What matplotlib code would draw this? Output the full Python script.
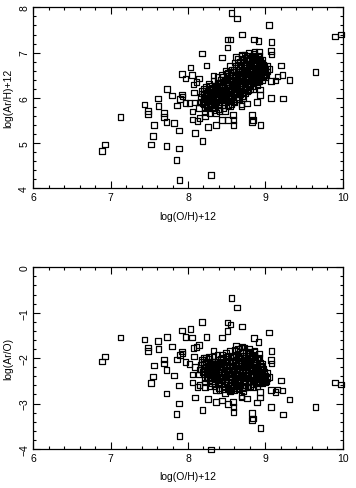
import numpy as np
import matplotlib
matplotlib.use('Agg')
from matplotlib import pyplot as plt
from matplotlib.ticker import MultipleLocator

plt.rcParams['font.family'] = ['Liberation Sans', 'DejaVu Sans']

# log(O/H)+12 and log(Ar/H)+12 of the sample
# scattered objects
oh_out = [6.89, 6.93, 7.13, 7.44, 7.48, 7.48, 7.56, 7.55, 7.52, 7.61, 7.62, 7.69, 7.69,
          7.72, 7.73, 7.72, 7.79, 7.82, 7.85, 7.88, 7.88, 7.89, 7.86, 7.90, 7.92, 7.93,
          7.92, 7.97, 8.03, 8.05, 8.06, 8.06, 8.09, 8.12, 8.15, 8.18, 8.19, 8.26, 8.30,
          8.36, 8.44, 8.51, 8.51, 8.55, 8.56, 8.63, 8.58, 8.59, 8.59, 8.70, 8.85, 8.91,
          9.05, 9.08, 9.07, 9.08, 9.07, 9.07, 9.13, 9.16, 9.22, 9.20, 9.31, 9.23, 9.65,
          9.90, 9.98, 8.83, 8.84, 8.83, 8.94, 8.89, 8.93, 8.93, 8.69, 8.69, 8.76, 8.07,
          8.08, 8.11, 8.14, 8.24, 8.33, 8.22, 8.28, 8.36, 8.21, 8.26, 8.15, 8.14, 8.22,
          8.02, 8.09, 7.97, 8.41, 8.48, 8.54, 8.44, 8.52]
arh_out = [4.82, 4.97, 5.58, 5.85, 5.71, 5.64, 5.40, 5.15, 4.97, 5.99, 5.82, 5.66, 5.57,
           5.46, 6.19, 4.94, 6.05, 5.44, 4.62, 4.88, 5.28, 4.18, 5.83, 5.97, 6.07, 6.03,
           6.53, 6.43, 6.67, 6.50, 5.70, 5.52, 5.22, 5.49, 5.56, 6.98, 5.05, 5.36, 4.29,
           5.40, 6.89, 7.11, 7.29, 7.29, 7.88, 7.75, 5.62, 5.51, 5.40, 7.40, 7.29, 7.26,
           7.61, 7.24, 7.03, 6.96, 6.37, 6.00, 6.38, 6.47, 6.51, 6.71, 6.40, 5.99, 6.57,
           7.36, 7.40, 5.62, 5.51, 5.47, 5.40, 5.91, 6.18, 6.06, 5.86, 5.82, 5.87, 6.29,
           6.12, 6.35, 6.43, 6.71, 6.49, 5.68, 5.66, 5.66, 5.93, 5.81, 5.90, 5.78, 5.59,
           5.89, 5.90, 5.89, 5.71, 5.71, 5.81, 5.51, 5.51]

# dense core of the distribution
oh_core = [8.16, 8.18, 8.19, 8.21, 8.22, 8.23, 8.24, 8.25, 8.26, 8.27, 8.28, 8.29, 8.30,
           8.31, 8.32, 8.33, 8.34, 8.35, 8.36, 8.37, 8.38, 8.39, 8.40, 8.41, 8.42, 8.43,
           8.44, 8.45, 8.46, 8.47, 8.48, 8.49, 8.50, 8.51, 8.52, 8.53, 8.54, 8.55, 8.56,
           8.57, 8.58, 8.59, 8.60, 8.61, 8.62, 8.63, 8.64, 8.65, 8.66, 8.67, 8.68, 8.69,
           8.70, 8.71, 8.72, 8.73, 8.74, 8.75, 8.76, 8.77, 8.78, 8.79, 8.80, 8.81, 8.82,
           8.83, 8.84, 8.85, 8.86, 8.87, 8.88, 8.89, 8.90, 8.91, 8.92, 8.93, 8.94, 8.95,
           8.96, 8.97, 8.98, 8.99, 9.00, 9.02, 9.01,
           8.17, 8.20, 8.22, 8.24, 8.26, 8.28, 8.30, 8.31, 8.33, 8.35, 8.36, 8.38, 8.39,
           8.41, 8.42, 8.44, 8.45, 8.46, 8.48, 8.49, 8.50, 8.52, 8.53, 8.55, 8.56, 8.57,
           8.58, 8.60, 8.61, 8.62, 8.64, 8.65, 8.66, 8.67, 8.68, 8.70, 8.71, 8.72, 8.73,
           8.74, 8.75, 8.76, 8.77, 8.79, 8.80, 8.81, 8.82, 8.83, 8.84, 8.86, 8.87, 8.88,
           8.89, 8.90, 8.91, 8.92, 8.93, 8.94, 8.96, 8.97, 8.98, 9.00, 9.03, 9.05,
           8.20, 8.23, 8.27, 8.29, 8.32, 8.34, 8.37, 8.40, 8.43, 8.45, 8.47, 8.50, 8.51,
           8.53, 8.54, 8.56, 8.58, 8.59, 8.61, 8.62, 8.63, 8.64, 8.66, 8.67, 8.69, 8.70,
           8.72, 8.73, 8.74, 8.76, 8.77, 8.78, 8.80, 8.81, 8.82, 8.84, 8.85, 8.86, 8.88,
           8.89, 8.91, 8.93, 8.95, 8.96, 8.99, 8.60, 8.66, 8.72, 8.78, 8.84, 8.52, 8.46,
           8.40, 8.34, 8.62, 8.70, 8.79, 8.86, 8.92,
           8.18, 8.21, 8.25, 8.28, 8.31, 8.33, 8.36, 8.38, 8.41, 8.43, 8.46, 8.48, 8.50,
           8.52, 8.55, 8.57, 8.59, 8.61, 8.63, 8.65, 8.67, 8.69, 8.71, 8.73, 8.75, 8.77,
           8.79, 8.81, 8.83, 8.85, 8.87, 8.89, 8.91, 8.93, 8.95, 8.97, 8.99,
           8.32, 8.38, 8.44, 8.50, 8.56, 8.62, 8.68, 8.74, 8.80, 8.86, 8.92, 8.98,
           8.28, 8.35, 8.42, 8.48, 8.54, 8.60, 8.66, 8.72, 8.78, 8.84, 8.90, 8.96]
arh_core = [6.02, 6.15, 5.88, 6.08, 5.78, 6.24, 5.96, 6.12, 5.84, 6.30, 6.02, 5.92, 6.18,
            5.76, 6.06, 6.38, 5.88, 6.14, 6.24, 5.98, 6.46, 6.08, 5.84, 6.30, 6.18, 5.94,
            6.52, 6.04, 6.36, 6.22, 5.90, 6.60, 6.12, 6.44, 6.00, 6.28, 6.70, 6.16, 5.86,
            6.50, 6.36, 6.06, 6.78, 6.24, 6.58, 5.96, 6.42, 6.86, 6.14, 6.66, 6.32, 6.92,
            6.04, 6.50, 6.78, 6.22, 6.62, 6.88, 6.40, 6.14, 6.70, 6.54, 6.94, 6.30, 6.80,
            6.46, 6.64, 6.98, 6.36, 6.72, 6.56, 6.86, 6.44, 6.68, 6.92, 6.52, 6.76, 6.60,
            6.84, 6.48, 6.66, 6.56, 6.62, 6.70, 6.50,
            5.92, 6.20, 6.00, 5.82, 6.10, 6.26, 5.86, 6.00, 6.12, 5.80, 6.02, 6.20, 5.90,
            6.10, 6.40, 5.98, 6.26, 5.84, 6.14, 6.34, 5.96, 6.22, 6.48, 6.02, 6.30, 6.62,
            5.92, 6.12, 6.44, 6.28, 6.02, 6.54, 6.36, 6.20, 6.74, 6.42, 6.26, 6.60, 6.96,
            6.10, 6.48, 6.72, 6.32, 6.84, 6.18, 6.58, 6.40, 6.90, 6.26, 6.62, 6.46, 6.78,
            6.34, 6.60, 6.90, 6.42, 6.70, 6.56, 6.40, 6.74, 6.52, 6.46, 6.58, 6.64,
            5.98, 6.16, 5.96, 6.14, 5.94, 6.26, 6.10, 6.00, 6.22, 6.46, 6.06, 6.28, 6.56,
            6.10, 6.38, 6.20, 6.52, 6.30, 6.08, 6.70, 6.40, 6.18, 6.50, 6.80, 6.26, 6.60,
            6.36, 6.70, 6.44, 6.56, 6.88, 6.46, 6.66, 6.42, 6.54, 6.76, 6.50, 6.84, 6.64,
            6.48, 6.54, 6.82, 6.48, 6.70, 6.60, 5.90, 5.98, 6.12, 6.24, 6.36, 5.84, 5.78,
            5.74, 5.72, 6.90, 6.96, 7.00, 7.02, 7.02,
            6.10, 5.86, 6.04, 5.80, 6.22, 5.98, 5.92, 6.30, 6.16, 6.34, 6.12, 6.40, 6.54,
            6.18, 6.56, 6.26, 6.62, 6.50, 6.12, 6.70, 6.42, 6.58, 6.84, 6.30, 6.66, 6.52,
            6.28, 6.76, 6.60, 6.34, 6.88, 6.70, 6.38, 6.60, 6.78, 6.58, 6.70,
            6.20, 6.34, 6.14, 6.40, 6.10, 6.48, 6.08, 6.20, 6.86, 6.92, 6.36, 6.50,
            6.20, 5.90, 6.00, 6.02, 5.94, 6.34, 6.28, 6.00, 6.16, 6.20, 6.28, 6.62]

oh = np.array(oh_out + oh_core)
arh = np.array(arh_out + arh_core)
aro = arh - oh  # log(Ar/O)

fig = plt.figure(figsize=(3.56, 4.89), dpi=100)
ax1 = fig.add_axes([0.0936, 0.6129, 0.869, 0.370])
ax2 = fig.add_axes([0.0936, 0.0798, 0.869, 0.3715])

for ax, y, yl, ylab in [(ax1, arh, (4, 8), 'log(Ar/H)+12'),
                        (ax2, aro, (-4, 0), 'log(Ar/O)')]:
    ax.scatter(oh, y, marker='s', s=16, facecolors='none', edgecolors='black',
               linewidths=0.9, clip_on=False)
    ax.set_xlim(6, 10)
    ax.set_ylim(*yl)
    ax.xaxis.set_major_locator(MultipleLocator(1))
    ax.xaxis.set_minor_locator(MultipleLocator(0.2))
    ax.yaxis.set_major_locator(MultipleLocator(1))
    ax.yaxis.set_minor_locator(MultipleLocator(0.2))
    ax.tick_params(which='both', direction='in', top=True, right=True,
                   labelsize=7.5, width=0.8)
    ax.tick_params(which='major', length=5, pad=3)
    ax.tick_params(which='minor', length=2.5)
    for lbl in ax.get_yticklabels():
        lbl.set_rotation(90)
        lbl.set_va('center')
    for sp in ax.spines.values():
        sp.set_linewidth(0.9)
    ax.set_xlabel('log(O/H)+12', fontsize=7.5, labelpad=6)
    ax.set_ylabel(ylab, fontsize=7.5, labelpad=4)

fig.savefig('out.png', dpi=100)
